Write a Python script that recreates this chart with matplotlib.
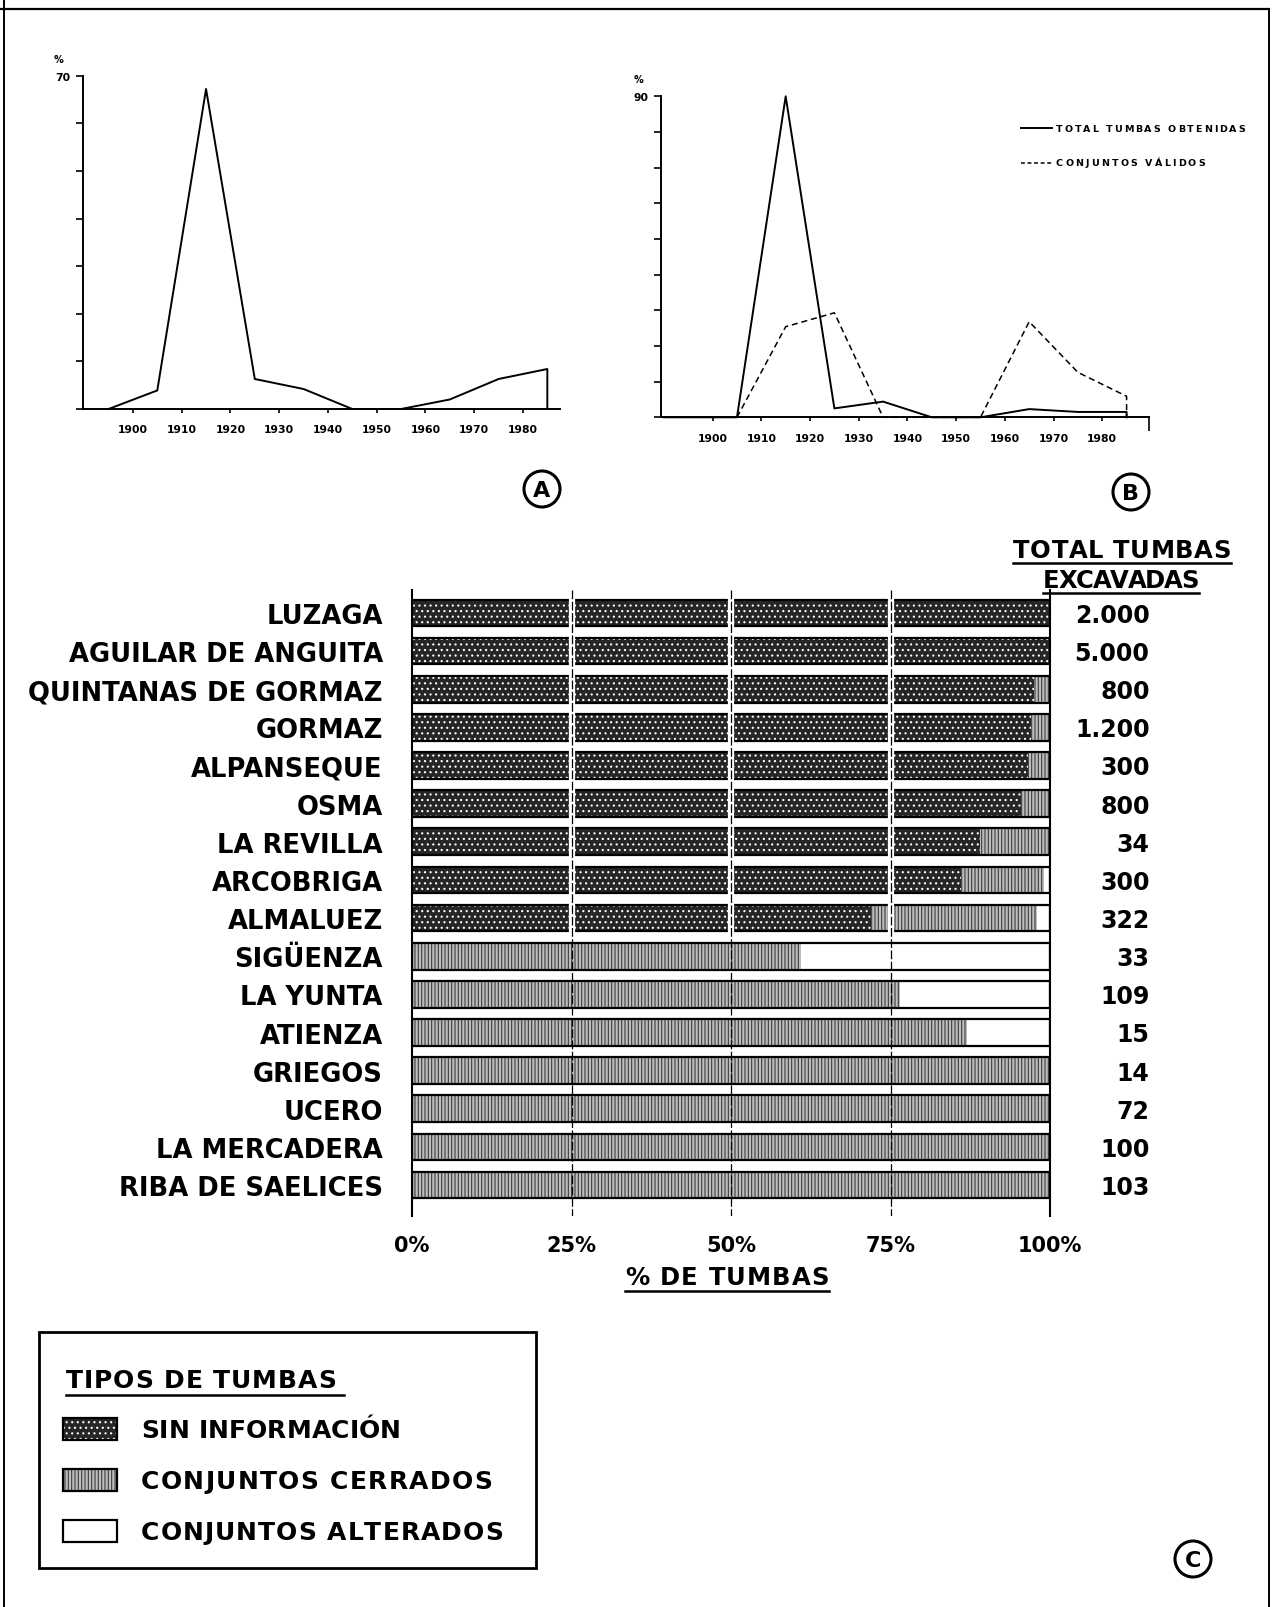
import numpy as np
import matplotlib
matplotlib.use("Agg")
import matplotlib.pyplot as plt
from matplotlib.patches import Rectangle, Circle
from matplotlib.font_manager import FontProperties

plt.rcParams['font.family'] = ['DejaVu Sans']
plt.rcParams['font.weight'] = 'bold'
plt.rcParams['hatch.linewidth'] = 0.8

W, H = 1274, 1608

# ---- panel A data (percent per decade) ----
years_a = [1895, 1905, 1915, 1925, 1935, 1945, 1955, 1965, 1975, 1985, 1985]
pct_a = [0, 3.9, 67.2, 6.3, 4.2, 0, 0, 2.0, 6.3, 8.4, 0]

# ---- panel B data ----
years_b = [1890, 1905, 1915, 1925, 1935, 1945, 1955, 1965, 1975, 1985, 1985]
total_b = [0, 0, 90, 2.5, 4.4, 0, 0, 2.3, 1.5, 1.5, 0]
years_v = [1905, 1915, 1925, 1935, 1945, 1955, 1965, 1975, 1985, 1985]
validos_b = [0, 25.4, 29.3, 0, 0, 0, 26.8, 12.6, 5.9, 0]
decades = [1900, 1910, 1920, 1930, 1940, 1950, 1960, 1970, 1980]

# ---- panel C data ----
sites = ["LUZAGA", "AGUILAR DE ANGUITA", "QUINTANAS DE GORMAZ", "GORMAZ",
         "ALPANSEQUE", "OSMA", "LA REVILLA", "ARCOBRIGA", "ALMALUEZ",
         "SIGÜENZA", "LA YUNTA", "ATIENZA", "GRIEGOS", "UCERO",
         "LA MERCADERA", "RIBA DE SAELICES"]
sin_info = [100, 100, 97.5, 97, 96.5, 95.5, 89, 86, 72, 0, 0, 0, 0, 0, 0, 0]
cerrados = [0, 0, 2.5, 3, 3.5, 4.5, 11, 13, 26, 61, 76.5, 87, 100, 100, 100, 100]
alterados = [0, 0, 0, 0, 0, 0, 0, 1, 2, 39, 23.5, 13, 0, 0, 0, 0]
totales = ["2.000", "5.000", "800", "1.200", "300", "800", "34", "300", "322",
           "33", "109", "15", "14", "72", "100", "103"]

DARK = dict(facecolor="#262626", edgecolor="white", hatch="...", linewidth=0)
LIGHT = dict(facecolor="#bdbdbd", edgecolor="#3c3c3c", hatch="|||||", linewidth=0)


def rect(l, t, r, b):
    return [l / W, 1 - b / H, (r - l) / W, (b - t) / H]


def line_panel(ax, xlim, ymax, top_label):
    ax.set_xlim(*xlim)
    ax.set_ylim(0, ymax)
    ax.spines['top'].set_visible(False)
    ax.spines['right'].set_visible(False)
    for s in ('left', 'bottom'):
        ax.spines[s].set_linewidth(1.4)
    ax.set_xticks(decades)
    ax.set_xticklabels([str(d) for d in decades], fontsize=7.8, weight='bold')
    ax.set_yticks(range(0, ymax + 1, 10))
    ax.set_yticklabels([''] * (ymax // 10) + [top_label], fontsize=7.8, weight='bold')
    ax.tick_params(axis='x', length=3, width=1.2, pad=8)
    ax.tick_params(axis='y', length=5, width=1.2, pad=4)
    ax.patch.set_alpha(0)


fig = plt.figure(figsize=(W / 100, H / 100), dpi=100)

# ---- A ----
ax_a = fig.add_axes(rect(82.7, 76.7, 560, 410))
line_panel(ax_a, (1889.7, 1987.6), 70, '70')
ax_a.plot(years_a, pct_a, color='black', lw=1.4, clip_on=False)

# ---- B ----
ax_b = fig.add_axes(rect(661, 97.3, 1149, 418.3))
line_panel(ax_b, (1889.4, 1989.6), 90, '90')
ax_b.plot(years_b, total_b, color='black', lw=1.4, clip_on=False)
ax_b.plot(years_v, validos_b, color='black', lw=1.1, ls=(0, (4, 2.5)), clip_on=False)
ax_b.tick_params(axis='x', which='minor', length=10, width=1.2)
ax_b.set_xticks([1989.6], minor=True)

# ---- C ----
ax_c = fig.add_axes(rect(412, 591, 1050, 1217))
y = np.arange(len(sites))
sin_info_a = np.array(sin_info)
cerrados_a = np.array(cerrados)
alterados_a = np.array(alterados)
ax_c.barh(y, sin_info_a, height=0.7, zorder=2, **DARK)
ax_c.barh(y, cerrados_a, left=sin_info_a, height=0.7, zorder=2, **LIGHT)
ax_c.barh(y, alterados_a, left=sin_info_a + cerrados_a, height=0.7, zorder=2,
          facecolor='white', linewidth=0)
ax_c.barh(y, sin_info_a + cerrados_a + alterados_a, height=0.7, fill=False,
          edgecolor='black', linewidth=1.6, zorder=3)
ax_c.set_xlim(0, 100)
ax_c.set_ylim(15.81, -0.6)
for g in (25, 50, 75):
    ax_c.vlines(g, -0.42, 8.4, color='white', lw=4.5, zorder=4)
    ax_c.vlines(g, -0.6, 15.81, color='black', lw=0.9, ls=(0, (7, 2)), zorder=5)
ax_c.spines['top'].set_visible(False)
ax_c.spines['bottom'].set_visible(False)
ax_c.spines['left'].set_linewidth(1.5)
ax_c.spines['right'].set_linewidth(1.5)
ax_c.set_yticks(y)
ax_c.set_yticklabels(sites, fontsize=18.6, weight='bold')
ax_c.tick_params(axis='y', length=0, pad=21)
ax_c.set_xticks([0, 25, 50, 75, 100])
ax_c.set_xticklabels(["0%", "25%", "50%", "75%", "100%"], fontsize=15, weight='bold')
ax_c.tick_params(axis='x', length=0, pad=14)
ax_c.patch.set_alpha(0)
for yi, t in zip(y, totales):
    ax_c.text(115.6, yi + 0.05, t, ha='right', va='center', fontsize=17,
              weight='bold', clip_on=False)

# ---- overlay in pixel coordinates ----
ov = fig.add_axes([0, 0, 1, 1])
ov.set_xlim(0, W)
ov.set_ylim(H, 0)
ov.axis('off')
ov.set_zorder(10)

fig.canvas.draw()
renderer = fig.canvas.get_renderer()


def spaced_text(x, yc, s, size, width):
    # draw text letter by letter, spread to a given width
    prop = FontProperties(family='DejaVu Sans', weight='bold', size=size)
    ws = [renderer.get_text_width_height_descent(ch, prop, ismath=False)[0] for ch in s]
    track = (width - sum(ws)) / (len(s) - 1)
    xx = x
    for ch, w in zip(s, ws):
        ov.text(xx, yc, ch, fontproperties=prop, ha='left', va='center')
        xx += w + track
    return x, x + width


# page frame
ov.plot([0, 1269], [10, 10], color='black', lw=1.6)
ov.plot([1269, 1269], [10, H], color='black', lw=1.4)
ov.plot([4, 4], [0, H], color='black', lw=1.4)

ov.text(59, 60, "%", fontsize=7, ha='center', va='center')
ov.text(639, 80, "%", fontsize=7, ha='center', va='center')

# legend of B
ov.plot([1021, 1052], [129, 129], color='black', lw=1.4)
ov.plot([1021, 1052], [164, 164], color='black', lw=1.1, ls=(0, (2.5, 1.8)))
spaced_text(1056, 129, "TOTAL TUMBAS OBTENIDAS", 6.8, 189)
spaced_text(1056, 164, "CONJUNTOS VÁLIDOS", 6.8, 149)

# circled letters
for cx, cy, letter in [(542, 490, 'A'), (1131, 493, 'B'), (1193, 1560, 'C')]:
    ov.add_patch(Circle((cx, cy), 18, fill=False, edgecolor='black', lw=2.2))
    ov.text(cx, cy + 1, letter, fontsize=16, ha='center', va='center', weight='bold')


def underline(x0, x1, yy):
    ov.plot([x0, x1], [yy, yy], color='black', lw=1.8)


# header of totals and x label
a, b = spaced_text(1013, 551, "TOTAL TUMBAS", 17.5, 218)
underline(a, b, 564)
a, b = spaced_text(1043, 581, "EXCAVADAS", 17.5, 156)
underline(a, b, 594)
a, b = spaced_text(625, 1278, "% DE TUMBAS", 17.5, 204)
underline(a, b, 1292)

# legend of C
ov.add_patch(Rectangle((39, 1333), 497, 236, fill=False, edgecolor='black', lw=2))
a, b = spaced_text(66, 1381, "TIPOS DE TUMBAS", 18, 270)
underline(a, b + 8, 1396)
leg_items = [("SIN INFORMACIÓN", DARK, 260), ("CONJUNTOS CERRADOS", LIGHT, 351),
             ("CONJUNTOS ALTERADOS", dict(facecolor='white', linewidth=0), 362)]
for i, (lab, sty, wd) in enumerate(leg_items):
    cy = 1430 + i * 51
    ov.add_patch(Rectangle((63, cy - 11), 54, 22, **sty))
    ov.add_patch(Rectangle((63, cy - 11), 54, 22, fill=False, edgecolor='black', lw=1.6))
    spaced_text(141, cy + 1, lab, 18, wd)

fig.savefig("out.png", dpi=100)
